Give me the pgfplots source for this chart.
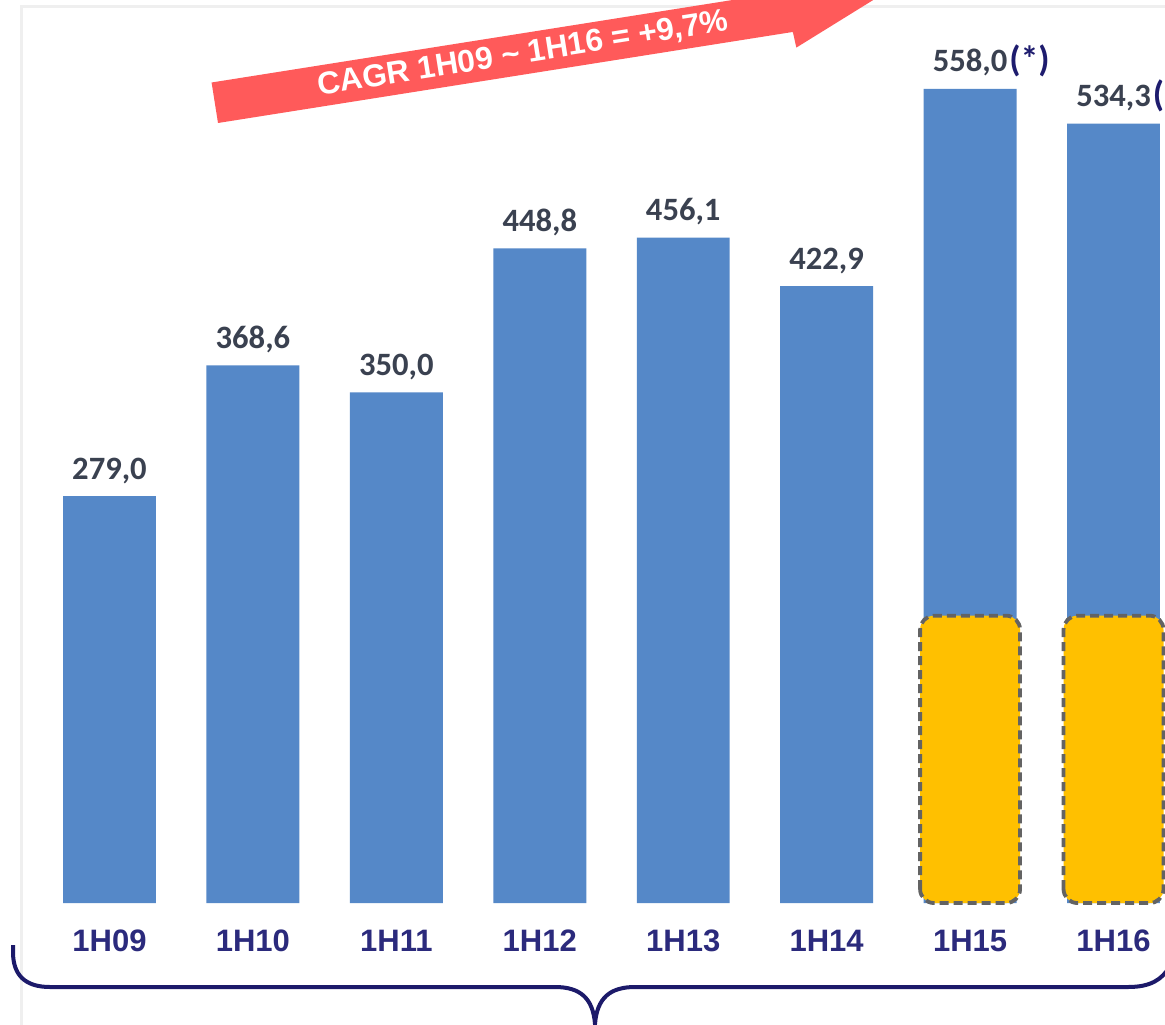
\documentclass[border=0pt]{standalone}
\usepackage{pgfplots}
\pgfplotsset{compat=1.18}
\usepackage{fontspec}
\setmainfont{Liberation Sans}
\newfontfamily\calibri{Carlito}
\newfontfamily\arial{Liberation Sans}
\definecolor{barblue}{HTML}{5588C8}
\definecolor{valtext}{HTML}{3A4150}
\definecolor{cattext}{HTML}{2B2A7C}
\definecolor{starc}{HTML}{1E1C6E}
\definecolor{bracec}{HTML}{1C1A6A}
\definecolor{arrowred}{HTML}{FF5A5A}
\definecolor{yelc}{HTML}{FFC000}
\definecolor{dashc}{HTML}{636363}
\definecolor{framec}{HTML}{EFEFEF}
\newcommand\fnst{\rlap{\kern1pt\textcolor{starc}{\fontsize{18}{20}\selectfont(*)}}}
\begin{document}
\begin{tikzpicture}
\useasboundingbox (0,0) rectangle (582.5pt,512pt);
\begin{scope}
\clip (0,0) rectangle (582.5pt,512pt);
\fill[white] (0,0) rectangle (582.5pt,512pt);
\begin{scope}[shift={(0,512pt)}, x=0.5pt, y=-0.5pt]
\draw[framec, line width=1.5pt] (21,1030) -- (21,7) -- (1170,7);
\end{scope}
\begin{axis}[at={(0,0)}, anchor=south west,
  width=582.5pt, height=512pt, scale only axis,
  xmin=-0.7634, xmax=7.359, ymin=-82.9, ymax=619.0,
  axis line style={draw=none}, tick style={draw=none},
  ytick=\empty, xtick={0,1,2,3,4,5,6,7},
  xticklabels={1H09,1H10,1H11,1H12,1H13,1H14,1H15,1H16},
  xticklabel style={font=\arial\bfseries\fontsize{15.5}{17}\selectfont, text=cattext, anchor=center, yshift=41.5pt},
  clip=false]
\addplot[ybar, bar width=0.648, fill=barblue, draw=none,
  nodes near coords, point meta=explicit symbolic,
  every node near coord/.append style={anchor=base, yshift=8.5pt, text=valtext, font=\calibri\bfseries\fontsize{16.3}{18}\selectfont}]
  coordinates {(0,279.0) [279,0] (1,368.6) [368,6] (2,350.0) [350,0] (3,448.8) [448,8]
               (4,456.1) [456,1] (5,422.9) [422,9] (6,558.0) [558,0\fnst] (7,534.3) [534,3\fnst]};
\addplot[fill=yelc, draw=dashc, line width=1.9pt, dash pattern=on 4.5pt off 2.5pt, rounded corners=7pt]
  coordinates {(5.6515,0) (5.6515,197) (6.3485,197) (6.3485,0)} -- cycle;
\addplot[fill=yelc, draw=dashc, line width=1.9pt, dash pattern=on 4.5pt off 2.5pt, rounded corners=7pt]
  coordinates {(6.6515,0) (6.6515,197) (7.3485,197) (7.3485,0)} -- cycle;
\end{axis}
\begin{scope}[shift={(109pt,450.5pt)}, rotate=9, x=0.5pt, y=0.5pt]
\fill[arrowred] (0,0) -- (582,0) -- (583,-16) -- (670,20.5) -- (583,57) -- (582,41) -- (0,41) -- cycle;
\node[rotate=9, text=white, font=\arial\bfseries\fontsize{15.8}{18}\selectfont] at (312,20) {CAGR 1H09 \textasciitilde{} 1H16 = +9,7\%};
\end{scope}
\begin{scope}[shift={(0,512pt)}, x=0.5pt, y=-0.5pt]
\draw[bracec, line width=2pt] (13,945) -- (13,952) .. controls (13,975) and (25,987) .. (50,987) -- (555,987)
  .. controls (580,987) and (593,998) .. (595,1024) .. controls (597,998) and (610,987) .. (635,987)
  -- (1128,987) .. controls (1150,987) and (1162,980) .. (1170,966);
\end{scope}
\end{scope}
\end{tikzpicture}
\end{document}
